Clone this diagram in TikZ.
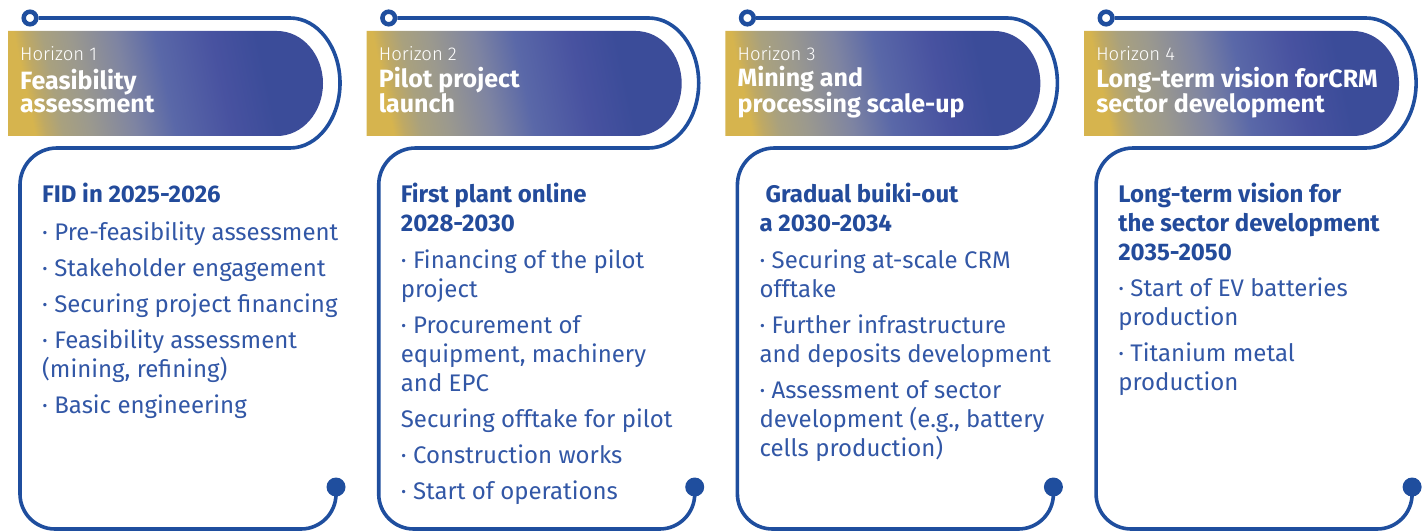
\documentclass[tikz,border=0pt]{standalone}
\usepackage{fontspec}
\setmainfont{Fira Sans}
\newfontfamily\lightfont{Fira Sans Light}

\definecolor{trackblue}{HTML}{1F4E9E}
\definecolor{headblue}{HTML}{234B9B}
\definecolor{itemblue}{HTML}{3257A6}
\definecolor{bgold}{HTML}{D6B44E}
\definecolor{bkhaki}{HTML}{BFA964}
\definecolor{bsand}{HTML}{A9A17E}
\definecolor{bgrey}{HTML}{9B998E}
\definecolor{bmist}{HTML}{7E84A2}
\definecolor{bslate}{HTML}{5A68A8}
\definecolor{bviolet}{HTML}{4852A0}
\definecolor{bdeep}{HTML}{3B4C99}

% the path box maps onto 25bp--75bp of the shading
\pgfdeclarehorizontalshading{bannershade}{100bp}{color(0bp)=(bgold); color(25bp)=(bgold); color(27bp)=(bkhaki); color(30bp)=(bsand); color(35bp)=(bgrey); color(43bp)=(bmist); color(50bp)=(bslate); color(60bp)=(bviolet); color(68bp)=(bdeep); color(100bp)=(bdeep)}

\tikzset{
	track/.style={trackblue, line width=3.6bp},
	ring/.style={circle, draw=trackblue, line width=4.5bp, fill=white, inner sep=0pt, minimum size=12.6bp},
	enddot/.style={circle, fill=trackblue, inner sep=0pt, minimum size=19bp},
	horizon/.style={anchor=base west, inner sep=0pt, text=white, font=\lightfont\fontsize{18.5bp}{22bp}\selectfont},
	bantitle/.style={anchor=base west, inner sep=0pt, text=white, align=left, font=\bfseries\fontsize{25bp}{23bp}\selectfont},
	head/.style={anchor=base west, inner sep=0pt, text=headblue, align=left, font=\bfseries\fontsize{24bp}{29bp}\selectfont},
	items/.style={anchor=base west, inner sep=0pt, text=itemblue, align=left, font=\fontsize{24bp}{29bp}\selectfont}
}

\begin{document}
\begin{tikzpicture}[x=1bp, y=-1bp]
	\useasboundingbox (0,0) rectangle (1425,531);
	
	% banners and tracks
	\foreach \i in {1,...,4} {
		\pgfmathsetmacro\ox{358.7*(\i-1)}
		\shade[shading=bannershade, shading angle=12] (\ox+8,31) -- (\ox+277,31) arc[start angle=-90, end angle=90, x radius=46, y radius=52.5] -- (\ox+8,136) -- cycle;
		\node[ring] (start\i) at (\ox+30,18) {};
		\node[enddot] (end\i) at (\ox+336,487) {};
		\draw[track] (start\i.east) -- (\ox+290,18) arc[start angle=-90, end angle=90, x radius=50, y radius=65]
			-- (\ox+57,148) arc[start angle=-90, end angle=-180, radius=37]
			-- (\ox+20,494) arc[start angle=180, end angle=90, radius=35]
			-- (\ox+301,529) arc[start angle=90, end angle=0, radius=35]
			-- (end\i.south);
		\node[horizon] (tag\i) at (\ox+20,61) {Horizon \i};
	}
	
	% multi-line nodes sit on the baseline of their last line
	\node[bantitle] (title1) at (20,113) {Feasibility\\assessment};
	\node[bantitle] (title2) at (378.7,113) {Pilot project\\launch};
	\node[bantitle] (title3) at (737.4,113) {Mining and\\processing scale-up};
	\node[bantitle] (title4) at (1096.1,113) {Long-term vision forCRM\\sector development};
	
	\node[head] (head1) at (42,203) {FID in 2025-2026};
	\node[items] (list1) at (42,413) {· Pre-feasibility assessment\\[7bp]· Stakeholder engagement\\[7bp]· Securing project financing\\[7bp]· Feasibility assessment\\(mining, refining)\\[7bp]· Basic engineering};
	
	\node[head] (head2) at (400.7,232) {First plant online\\2028-2030};
	\node[items] (list2) at (400.7,499) {· Financing of the pilot\\project\\[7bp]· Procurement of\\equipment, machinery\\and EPC\\[7bp]Securing offtake for pilot\\[7bp]· Construction works\\[7bp]· Start of operations};
	
	\node[head] (head3) at (759.4,232) {\hspace*{0.25em}Gradual buiki-out\\a 2030-2034};
	\node[items] (list3) at (759.4,456) {· Securing at-scale CRM\\offtake\\[7bp]· Further infrastructure\\and deposits development\\[7bp]· Assessment of sector\\development (e.g., battery\\cells production)};
	
	\node[head] (head4) at (1118.1,261) {Long-term vision for\\the sector development\\2035-2050};
	\node[items] (list4) at (1118.1,390) {· Start of EV batteries\\production\\[7bp]· Titanium metal\\production};
\end{tikzpicture}
\end{document}
